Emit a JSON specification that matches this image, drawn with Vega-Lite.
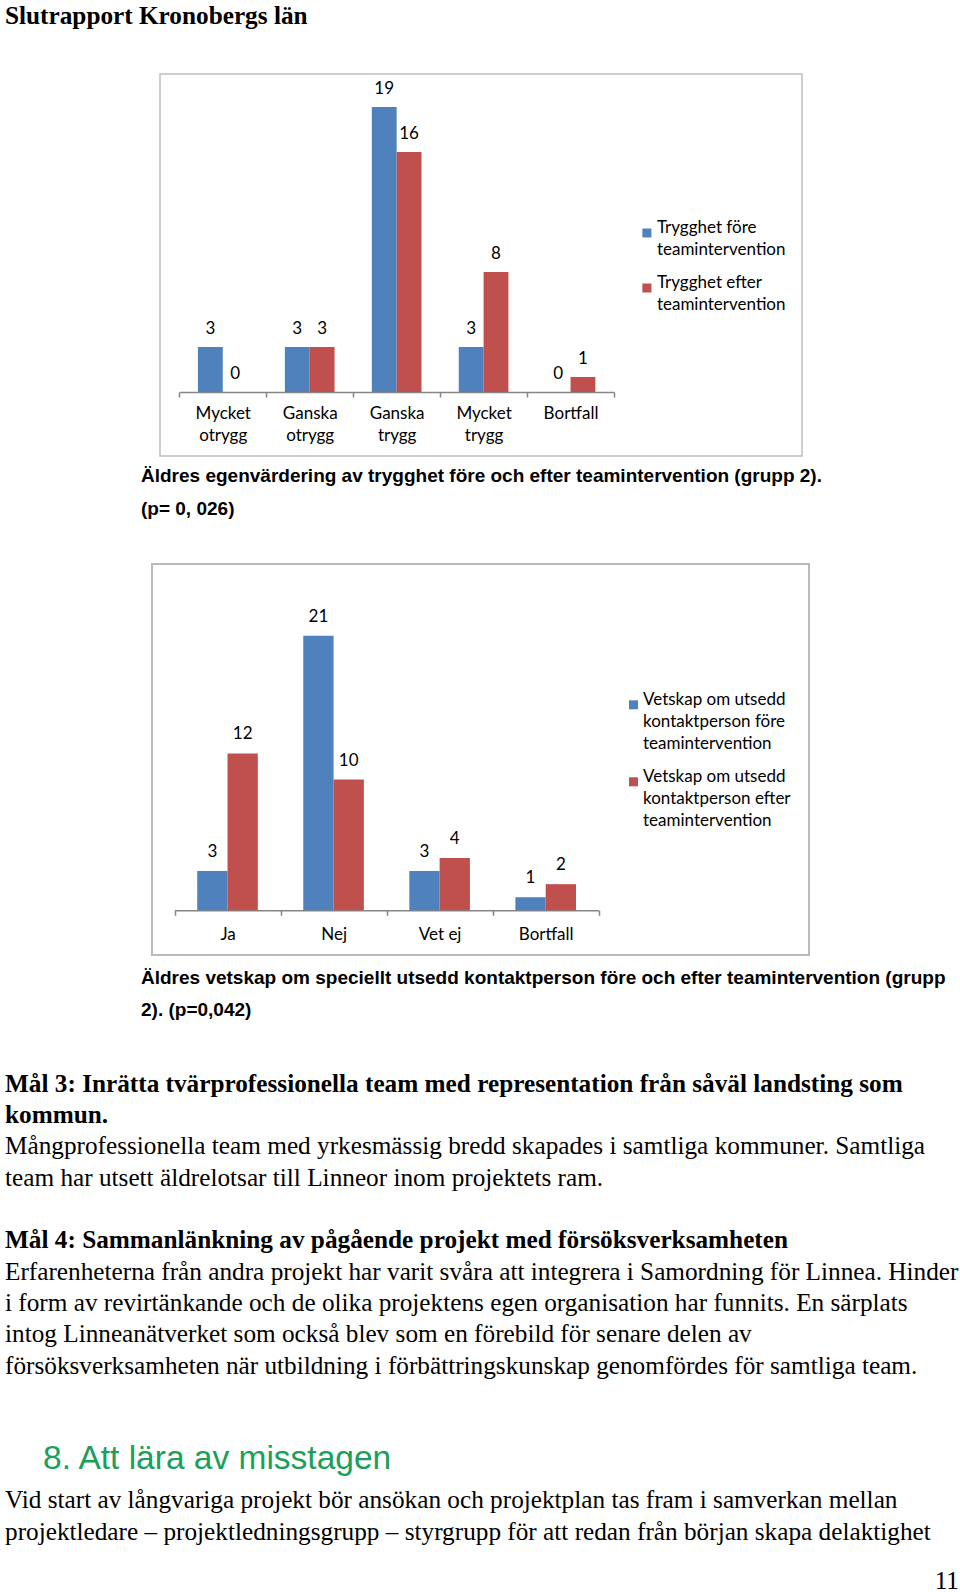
{
  "$schema": "https://vega.github.io/schema/vega-lite/v6.json",
  "background": "white",
  "padding": {"top": 3, "left": 0, "right": 0, "bottom": 0},
  "spacing": 0,
  "bounds": "full",
  "title": {
    "text": "Slutrapport Kronobergs län",
    "anchor": "start",
    "frame": "group",
    "dx": 5,
    "offset": 44.5,
    "baseline": "top",
    "font": "Liberation Serif",
    "fontSize": 25.25,
    "fontWeight": "bold",
    "color": "black"
  },
  "config": {
    "view": {"stroke": null},
    "font": "Lato",
    "style": {"guide-label": {"lineHeight": 22}}
  },
  "resolve": {
    "scale": {"x": "independent", "y": "independent", "color": "independent", "xOffset": "independent"},
    "legend": {"color": "independent"},
    "axis": {"x": "independent", "y": "independent"}
  },
  "vconcat": [
    {
      "hconcat": [
        {"width": 160, "height": 489, "data": {"values": []}, "mark": "point"},
        {
          "width": 642,
          "height": 382,
          "view": {"stroke": "#bfbfbf", "strokeWidth": 1.5},
          "data": {
            "values": [
              {"kategori": "Mycket otrygg", "serie": "Trygghet före teamintervention", "antal": 3},
              {"kategori": "Mycket otrygg", "serie": "Trygghet efter teamintervention", "antal": 0},
              {"kategori": "Ganska otrygg", "serie": "Trygghet före teamintervention", "antal": 3},
              {"kategori": "Ganska otrygg", "serie": "Trygghet efter teamintervention", "antal": 3},
              {"kategori": "Ganska trygg", "serie": "Trygghet före teamintervention", "antal": 19},
              {"kategori": "Ganska trygg", "serie": "Trygghet efter teamintervention", "antal": 16},
              {"kategori": "Mycket trygg", "serie": "Trygghet före teamintervention", "antal": 3},
              {"kategori": "Mycket trygg", "serie": "Trygghet efter teamintervention", "antal": 8},
              {"kategori": "Bortfall", "serie": "Trygghet före teamintervention", "antal": 0},
              {"kategori": "Bortfall", "serie": "Trygghet efter teamintervention", "antal": 1}
            ]
          },
          "title": {
            "text": ["Äldres egenvärdering av trygghet före och efter teamintervention (grupp 2).", "(p= 0, 026)"],
            "orient": "bottom",
            "anchor": "start",
            "frame": "group",
            "dx": -19,
            "offset": 11.2,
            "baseline": "top",
            "font": "Liberation Sans",
            "fontSize": 19,
            "fontWeight": "bold",
            "lineHeight": 32.6,
            "color": "black"
          },
          "encoding": {
            "x": {
              "field": "kategori",
              "type": "nominal",
              "sort": ["Mycket otrygg", "Ganska otrygg", "Ganska trygg", "Mycket trygg", "Bortfall"],
              "scale": {"range": [19.3, 454], "paddingInner": 0, "paddingOuter": 0},
              "axis": {
                "title": null,
                "offset": -64,
                "grid": false,
                "domainColor": "#868686",
                "domainWidth": 1.5,
                "tickColor": "#868686",
                "tickWidth": 1.5,
                "tickSize": 5,
                "tickBand": "extent",
                "labelAngle": 0,
                "labelFont": "Lato",
                "labelFontSize": 17,
                "labelColor": "black",
                "labelPadding": 8,
                "labelBaseline": "top",
                "labelLineHeight": 22,
                "labelExpr": "split(datum.label, ' ')"
              }
            },
            "xOffset": {
              "field": "serie",
              "type": "nominal",
              "sort": ["Trygghet före teamintervention", "Trygghet efter teamintervention"],
              "scale": {"paddingInner": 0, "paddingOuter": 0.75}
            },
            "y": {
              "field": "antal",
              "type": "quantitative",
              "scale": {"domain": [0, 21.2], "range": [318, 0], "nice": false, "zero": true},
              "axis": null
            },
            "color": {
              "field": "serie",
              "type": "nominal",
              "sort": ["Trygghet före teamintervention", "Trygghet efter teamintervention"],
              "scale": {"range": ["#4F81BD", "#C0504D"]},
              "legend": {
                "title": null,
                "orient": "none",
                "legendX": 638.4,
                "legendY": 150.5,
                "direction": "vertical",
                "padding": 0,
                "symbolType": "square",
                "symbolSize": 81,
                "symbolStrokeWidth": 0,
                "labelFont": "Lato",
                "labelFontSize": 17,
                "labelColor": "black",
                "labelBaseline": "alphabetic",
                "labelOffset": 1.5,
                "labelLimit": 400,
                "rowPadding": 15,
                "labelExpr": "split(replace(datum.label, ' teamintervention', '|teamintervention'), '|')"
              }
            }
          },
          "layer": [
            {"mark": {"type": "bar"}},
            {
              "mark": {"type": "text", "baseline": "middle", "dy": -18, "font": "Lato", "fontSize": 17},
              "encoding": {"text": {"field": "antal", "type": "quantitative"}, "color": {"value": "black"}}
            }
          ]
        }
      ],
      "spacing": 0,
      "bounds": "flush"
    },
    {
      "hconcat": [
        {"width": 152, "height": 507, "data": {"values": []}, "mark": "point"},
        {
          "width": 657,
          "height": 391,
          "view": {"stroke": "#bababa", "strokeWidth": 2},
          "data": {
            "values": [
              {"kategori": "Ja", "serie": "Vetskap om utsedd kontaktperson före teamintervention", "antal": 3},
              {"kategori": "Ja", "serie": "Vetskap om utsedd kontaktperson efter teamintervention", "antal": 12},
              {"kategori": "Nej", "serie": "Vetskap om utsedd kontaktperson före teamintervention", "antal": 21},
              {"kategori": "Nej", "serie": "Vetskap om utsedd kontaktperson efter teamintervention", "antal": 10},
              {"kategori": "Vet ej", "serie": "Vetskap om utsedd kontaktperson före teamintervention", "antal": 3},
              {"kategori": "Vet ej", "serie": "Vetskap om utsedd kontaktperson efter teamintervention", "antal": 4},
              {"kategori": "Bortfall", "serie": "Vetskap om utsedd kontaktperson före teamintervention", "antal": 1},
              {"kategori": "Bortfall", "serie": "Vetskap om utsedd kontaktperson efter teamintervention", "antal": 2}
            ]
          },
          "title": {
            "text": ["Äldres vetskap om speciellt utsedd kontaktperson före och efter teamintervention (grupp", "2). (p=0,042)"],
            "orient": "bottom",
            "anchor": "start",
            "frame": "group",
            "dx": -11,
            "offset": 13.5,
            "baseline": "top",
            "font": "Liberation Sans",
            "fontSize": 19,
            "fontWeight": "bold",
            "lineHeight": 32.6,
            "color": "black"
          },
          "encoding": {
            "x": {
              "field": "kategori",
              "type": "nominal",
              "sort": ["Ja", "Nej", "Vet ej", "Bortfall"],
              "scale": {"range": [22.5, 446.7], "paddingInner": 0, "paddingOuter": 0},
              "axis": {
                "title": null,
                "offset": -44.7,
                "grid": false,
                "domainColor": "#868686",
                "domainWidth": 1.5,
                "tickColor": "#868686",
                "tickWidth": 1.5,
                "tickSize": 5,
                "tickBand": "extent",
                "labelAngle": 0,
                "labelFont": "Lato",
                "labelFontSize": 17,
                "labelColor": "black",
                "labelPadding": 11,
                "labelBaseline": "top"
              }
            },
            "xOffset": {
              "field": "serie",
              "type": "nominal",
              "sort": ["Vetskap om utsedd kontaktperson före teamintervention", "Vetskap om utsedd kontaktperson efter teamintervention"],
              "scale": {"paddingInner": 0, "paddingOuter": 0.75}
            },
            "y": {
              "field": "antal",
              "type": "quantitative",
              "scale": {"domain": [0, 26.5], "range": [346.3, 0], "nice": false, "zero": true},
              "axis": null
            },
            "color": {
              "field": "serie",
              "type": "nominal",
              "sort": ["Vetskap om utsedd kontaktperson före teamintervention", "Vetskap om utsedd kontaktperson efter teamintervention"],
              "scale": {"range": ["#4F81BD", "#C0504D"]},
              "legend": {
                "title": null,
                "orient": "none",
                "legendX": 625,
                "legendY": 132.3,
                "direction": "vertical",
                "padding": 0,
                "symbolType": "square",
                "symbolSize": 81,
                "symbolStrokeWidth": 0,
                "labelFont": "Lato",
                "labelFontSize": 17,
                "labelColor": "black",
                "labelBaseline": "alphabetic",
                "labelOffset": 1,
                "labelLimit": 400,
                "rowPadding": 15,
                "labelExpr": "split(replace(replace(datum.label, ' kontaktperson', '|kontaktperson'), ' teamintervention', '|teamintervention'), '|')"
              }
            }
          },
          "layer": [
            {"mark": {"type": "bar"}},
            {
              "mark": {"type": "text", "baseline": "middle", "dy": -19, "font": "Lato", "fontSize": 17},
              "encoding": {"text": {"field": "antal", "type": "quantitative"}, "color": {"value": "black"}}
            }
          ]
        }
      ],
      "spacing": 0,
      "bounds": "flush"
    },
    {
      "width": 960,
      "height": 36.4,
      "data": {"values": []},
      "mark": "point",
      "title": {
        "text": ["Mål 3: Inrätta tvärprofessionella team med representation från såväl landsting som", "kommun."],
        "subtitle": ["Mångprofessionella team med yrkesmässig bredd skapades i samtliga kommuner. Samtliga", "team har utsett äldrelotsar till Linneor inom projektets ram."],
        "anchor": "start",
        "frame": "group",
        "orient": "top",
        "dx": 5,
        "offset": 0,
        "baseline": "top",
        "font": "Liberation Serif",
        "fontSize": 25.25,
        "fontWeight": "bold",
        "lineHeight": 31.4,
        "color": "black",
        "subtitleFont": "Liberation Serif",
        "subtitleFontSize": 25.25,
        "subtitleFontWeight": "normal",
        "subtitleColor": "black",
        "subtitleLineHeight": 31.4,
        "subtitlePadding": 6.2
      }
    },
    {
      "width": 960,
      "height": 61.8,
      "data": {"values": []},
      "mark": "point",
      "title": {
        "text": "Mål 4: Sammanlänkning av pågående projekt med försöksverksamheten",
        "subtitle": [
          "Erfarenheterna från andra projekt har varit svåra att integrera i Samordning för Linnea. Hinder",
          "i form av revirtänkande och de olika projektens egen organisation har funnits. En särplats",
          "intog Linneanätverket som också blev som en förebild för senare delen av",
          "försöksverksamheten när utbildning i förbättringskunskap genomfördes för samtliga team."
        ],
        "anchor": "start",
        "frame": "group",
        "orient": "top",
        "dx": 5,
        "offset": 0,
        "baseline": "top",
        "font": "Liberation Serif",
        "fontSize": 25.25,
        "fontWeight": "bold",
        "lineHeight": 31.4,
        "color": "black",
        "subtitleFont": "Liberation Serif",
        "subtitleFontSize": 25.25,
        "subtitleFontWeight": "normal",
        "subtitleColor": "black",
        "subtitleLineHeight": 31.4,
        "subtitlePadding": 6.2
      }
    },
    {
      "width": 960,
      "height": 12,
      "data": {"values": []},
      "mark": "point",
      "title": {
        "text": "8. Att lära av misstagen",
        "anchor": "start",
        "frame": "group",
        "orient": "top",
        "dx": 43,
        "offset": 0,
        "baseline": "top",
        "font": "Liberation Sans",
        "fontSize": 33.5,
        "fontWeight": "normal",
        "color": "#1aa05a"
      }
    },
    {
      "width": 960,
      "height": 23,
      "data": {"values": []},
      "mark": "point",
      "title": {
        "text": ["Vid start av långvariga projekt bör ansökan och projektplan tas fram i samverkan mellan", "projektledare – projektledningsgrupp – styrgrupp för att redan från början skapa delaktighet"],
        "anchor": "start",
        "frame": "group",
        "orient": "top",
        "dx": 5,
        "offset": 0,
        "baseline": "top",
        "font": "Liberation Serif",
        "fontSize": 25.25,
        "fontWeight": "normal",
        "lineHeight": 31.5,
        "color": "black"
      }
    },
    {
      "width": 960,
      "height": 1,
      "data": {"values": []},
      "mark": "point",
      "title": {
        "text": "11",
        "anchor": "end",
        "frame": "group",
        "orient": "top",
        "dx": -1,
        "offset": 0,
        "baseline": "top",
        "font": "Liberation Serif",
        "fontSize": 25.25,
        "fontWeight": "normal",
        "color": "black"
      }
    }
  ]
}
